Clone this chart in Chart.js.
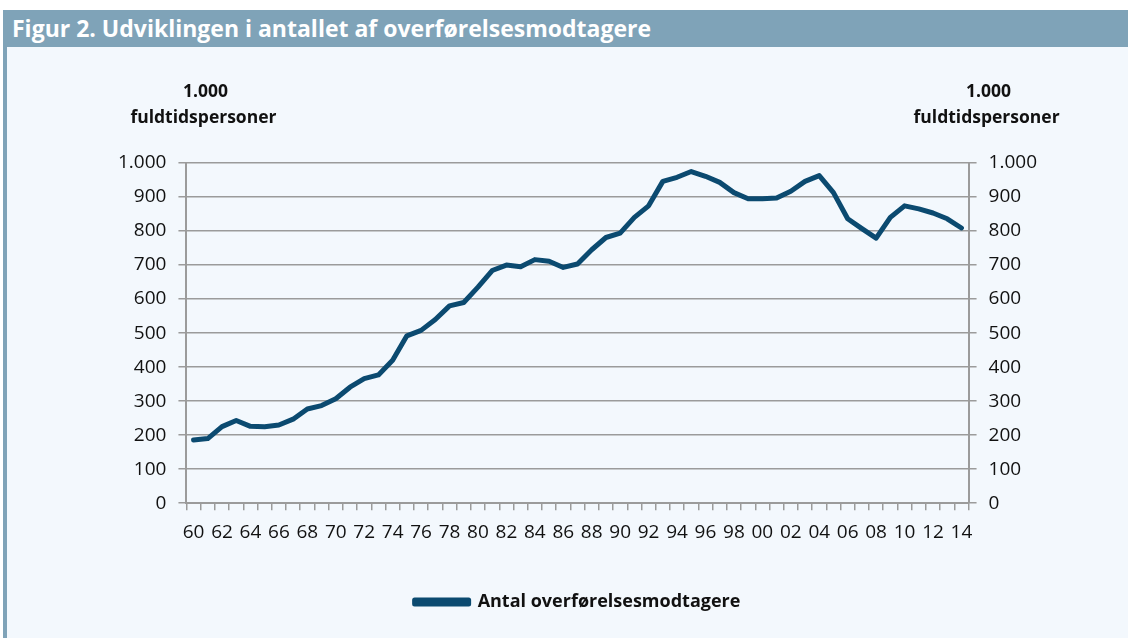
<!DOCTYPE html>
<html>
<head>
<meta charset="utf-8">
<script src="https://cdn.jsdelivr.net/npm/chart.js@4"></script>
<style>
  html, body { margin: 0; padding: 0; background: #ffffff; }
  #panel {
    position: absolute; left: 3px; top: 10px; width: 1125px; height: 628px;
    background: #f3f8fd; border-left: 4px solid #7fa3b8; box-sizing: border-box;
  }
  #header {
    position: absolute; left: 3px; top: 10px; width: 1125px; height: 37px;
    background: #7fa3b8; color: #ffffff;
    font: bold 23px "Open Sans", sans-serif; line-height: 37px; padding-left: 9px; box-sizing: border-box;
  }
  #wrap { position: absolute; left: 0; top: 47px; width: 1128px; height: 591px; }
</style>
</head>
<body>
<div id="panel"></div>
<div id="header">Figur 2. Udviklingen i antallet af overførelsesmodtagere</div>
<div id="wrap"><canvas id="chart"></canvas></div>
<script>
// years 1960-2014, shown as two-digit labels
const years = ['60','61','62','63','64','65','66','67','68','69',
               '70','71','72','73','74','75','76','77','78','79',
               '80','81','82','83','84','85','86','87','88','89',
               '90','91','92','93','94','95','96','97','98','99',
               '00','01','02','03','04','05','06','07','08','09',
               '10','11','12','13','14'];

// 1.000 fuldtidspersoner
const recipients = [186, 190, 225, 243, 226, 225, 230, 247, 277, 287,
                    307, 341, 366, 377, 420, 492, 508, 540, 580, 590,
                    635, 684, 700, 695, 716, 711, 693, 703, 745, 781,
                    794, 840, 874, 946, 958, 975, 961, 943, 913, 895,
                    895, 897, 917, 946, 963, 913, 836, 807, 779, 840,
                    874, 865, 853, 836, 809];

const axisTitle = ['1.000', 'fuldtidspersoner'];
const seriesName = 'Antal overførelsesmodtagere';

const lineColor = '#0b4a70';
const gridColor = '#9b9b9b';
const textColor = '#111111';
const tickFont = { family: '"Open Sans", sans-serif', size: 19 };

function fmtThousands(v) {
    return v >= 1000 ? Math.floor(v / 1000) + '.' + String(v % 1000).padStart(3, '0') : String(v);
}

// draws the "1.000 / fuldtidspersoner" headings above both y axes
const axisTitles = {
    id: 'axisTitles',
    afterDraw(chart) {
        const ctx = chart.ctx;
        const top = chart.chartArea.top;
        ctx.save();
        ctx.fillStyle = textColor;
        ctx.font = 'bold 17.5px "Open Sans", sans-serif';
        ctx.textAlign = 'center';
        ctx.textBaseline = 'middle';
        [chart.scales.y.right + 19, chart.scales.y2.left + 20].forEach(x => {
            ctx.fillText(axisTitle[0], x, top - 71);
            ctx.fillText(axisTitle[1], x - 2, top - 45);
        });
        ctx.restore();
    }
};

const ctx = document.getElementById('chart').getContext('2d');
new Chart(ctx, {
    type: 'line',
    data: {
        labels: years,
        datasets: [{
            label: seriesName,
            data: recipients,
            borderColor: lineColor,
            backgroundColor: lineColor,
            borderWidth: 5,
            pointRadius: 0,
            tension: 0,
            borderJoinStyle: 'round',
            borderCapStyle: 'round',
            yAxisID: 'y'
        }]
    },
    options: {
        responsive: true,
        maintainAspectRatio: false,
        animation: false,
        layout: { padding: { left: 106, right: 79, top: 116, bottom: 17 } },
        scales: {
            x: {
                type: 'category',
                offset: true,
                grid: {
                    offset: true,
                    drawOnChartArea: false,
                    color: gridColor,
                    lineWidth: 1.5,
                    tickLength: 7
                },
                border: { color: gridColor, width: 2 },
                ticks: {
                    autoSkip: false,
                    maxRotation: 0,
                    color: textColor,
                    padding: 11,
                    font: tickFont,
                    callback: (v, i) => (i % 2 === 0 ? years[i] : '')
                }
            },
            y: {
                position: 'left',
                min: 0,
                max: 1000,
                grid: { color: gridColor, lineWidth: 1.5, tickLength: 8 },
                border: { color: gridColor, width: 2 },
                ticks: {
                    stepSize: 100,
                    color: textColor,
                    padding: 12,
                    font: tickFont,
                    callback: v => fmtThousands(v)
                }
            },
            y2: {
                position: 'right',
                min: 0,
                max: 1000,
                grid: { drawOnChartArea: false, color: gridColor, lineWidth: 1.5, tickLength: 8 },
                border: { color: gridColor, width: 2 },
                ticks: {
                    stepSize: 100,
                    color: textColor,
                    padding: 12,
                    font: tickFont,
                    callback: v => fmtThousands(v)
                }
            }
        },
        plugins: {
            legend: {
                position: 'bottom',
                labels: {
                    color: textColor,
                    boxWidth: 54,
                    boxHeight: 4,
                    padding: 38,
                    font: { family: '"Open Sans", sans-serif', size: 18, weight: 'bold' }
                }
            },
            tooltip: { enabled: false }
        }
    },
    plugins: [axisTitles]
});
</script>
</body>
</html>
